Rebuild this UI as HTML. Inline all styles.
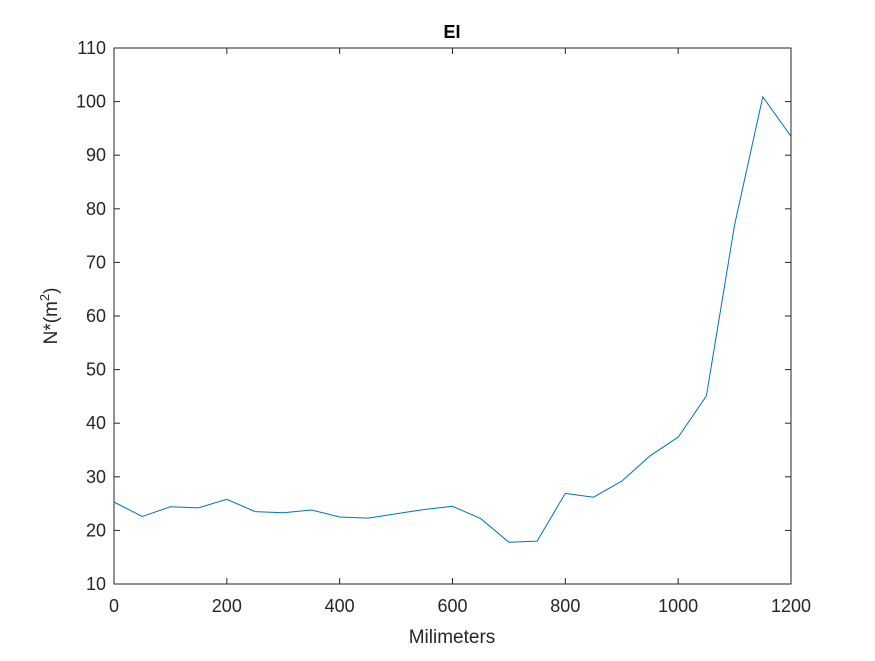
<!DOCTYPE html>
<html><head><meta charset="utf-8"><style>
body{margin:0;background:#fff;}
svg text{font-family:"Liberation Sans",Arial,sans-serif;fill:#262626;}
</style></head><body>
<svg id="chart" width="875" height="656" xmlns="http://www.w3.org/2000/svg">
<rect width="875" height="656" fill="#fff"/>
<rect x="114" y="48" width="677" height="536" fill="#fff" stroke="#262626" stroke-width="1"/>
<g id="ticks"></g>
<path id="line" fill="none" stroke="#0072BD" stroke-width="1"/>
<text x="452" y="38" text-anchor="middle" font-size="18" font-weight="bold" style="fill:#000">EI</text>
<text x="452" y="643" text-anchor="middle" font-size="19">Milimeters</text>
<text transform="translate(57,316) rotate(-90)" text-anchor="middle" font-size="19">N*(m<tspan dy="-8" font-size="13">2</tspan><tspan dy="8">)</tspan></text>
</svg>
<script>
const xValues=[0,50,100,150,200,250,300,350,400,450,500,550,600,650,700,750,800,850,900,950,1000,1050,1100,1150,1200];
const yValues=[25.3,22.6,24.4,24.2,25.8,23.5,23.3,23.8,22.5,22.3,23.1,23.9,24.5,22.2,17.8,18.0,26.9,26.2,29.2,33.9,37.4,45.1,77,100.9,93.5];
const xTicks=[0,200,400,600,800,1000,1200];
const yTicks=[10,20,30,40,50,60,70,80,90,100,110];
const L=114,R=791,T=48,B=584;
const sx=v=>L+(v-0)/(1200-0)*(R-L);
const sy=v=>B-(v-10)/(110-10)*(B-T);
const ns="http://www.w3.org/2000/svg";
const g=document.getElementById('ticks');
function mk(tag,attrs){const e=document.createElementNS(ns,tag);for(const k in attrs)e.setAttribute(k,attrs[k]);return e;}
xTicks.forEach(v=>{const x=sx(v);
 const t1=mk('line',{x1:x,x2:x,y1:B,y2:B-6,stroke:'#262626'});
 
 g.appendChild(t1);
 const t2=mk('line',{x1:x,x2:x,y1:T,y2:T+6,stroke:'#262626'});
 
 g.appendChild(t2);
 const tx=mk('text',{x:x,y:B+28,'text-anchor':'middle','font-size':'18'});tx.textContent=v;
 
 g.appendChild(tx);});
yTicks.forEach(v=>{const y=sy(v);
 const t1=mk('line',{x1:L,x2:L+6,y1:y,y2:y,stroke:'#262626'});
 
 g.appendChild(t1);
 const t2=mk('line',{x1:R,x2:R-6,y1:y,y2:y,stroke:'#262626'});
 
 g.appendChild(t2);
 const tx=mk('text',{x:L-8,y:y+6,'text-anchor':'end','font-size':'18'});tx.textContent=v;
 
 g.appendChild(tx);});
document.getElementById('line').setAttribute('d',xValues.map((x,i)=>(i?'L':'M')+sx(x).toFixed(1)+' '+sy(yValues[i]).toFixed(1)).join(' '));
</script>
</body></html>
